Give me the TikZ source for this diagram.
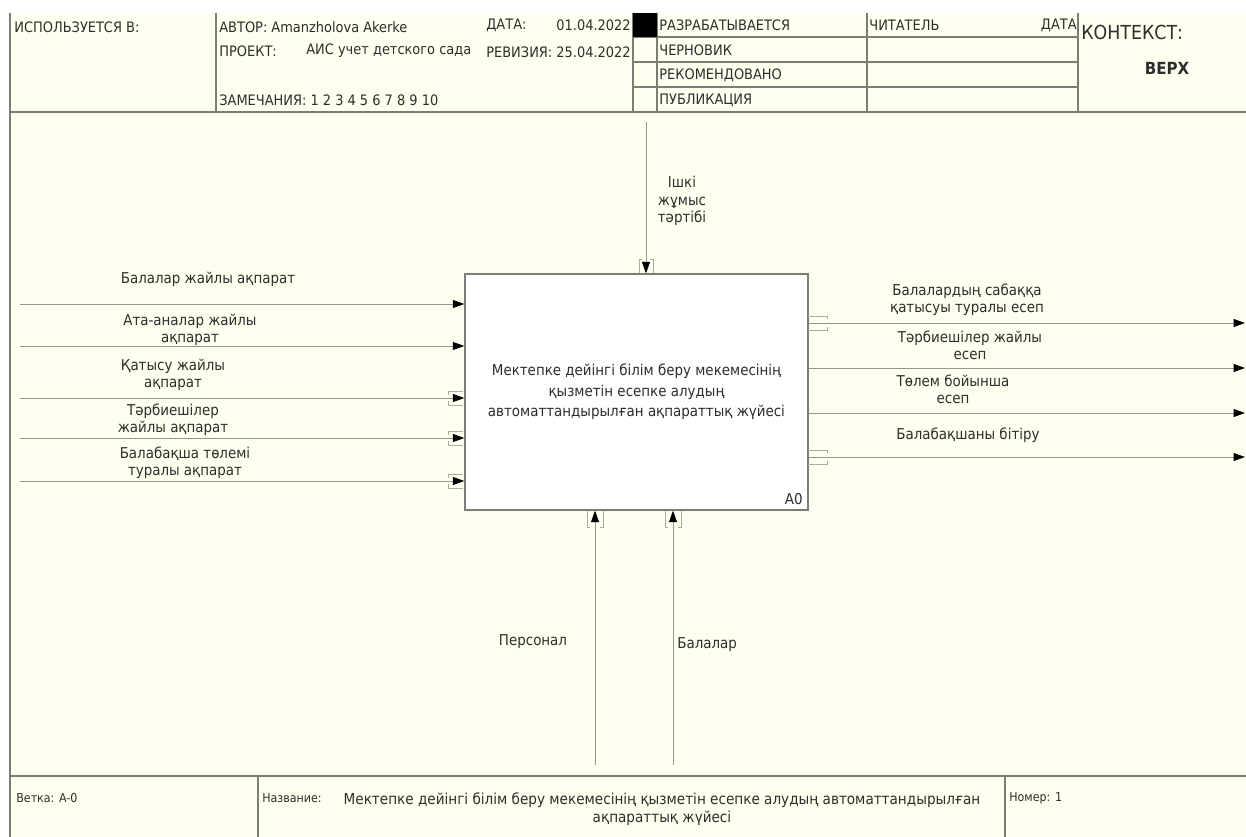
\documentclass[tikz,border=0pt]{standalone}
\usepackage{fontspec}
\setmainfont{DejaVu Sans Condensed}
\usetikzlibrary{arrows.meta}

\definecolor{paper}{RGB}{255,255,240}
\definecolor{rule}{RGB}{125,125,118}
\definecolor{wire}{RGB}{150,150,142}
\definecolor{ink}{RGB}{45,45,45}

\tikzset{
  lbl/.style={font=\fontsize{8.5}{9.8}\selectfont,text=ink,align=center,inner sep=0pt},
  hdr/.style={font=\fontsize{8.2}{9}\selectfont,text=ink,anchor=west,inner sep=0pt},
  ftr/.style={hdr,font=\fontsize{7}{8}\selectfont},
  flow/.style={draw=wire,line width=0.5pt,-{Triangle[length=6.5pt,width=4.5pt,color=black]}},
  tunnel/.style={draw=wire!80,line width=0.4pt},
  frame/.style={draw=rule,line width=1pt}
}

\begin{document}
\begin{tikzpicture}[x=0.02cm,y=-0.02cm]
\useasboundingbox (0,0) rectangle (1246,837);
\fill[white] (0,0) rectangle (1246,837);
\fill[paper] (10,13) rectangle (1246,837);

% header
\begin{scope}
\draw[frame] (10,13) -- (10,837);
\draw[frame] (10,112) -- (1246,112);
\foreach \x in {216,633,657,867,1078}
  \draw[frame,line width=0.6pt] (\x,13) -- (\x,112);
\foreach \y in {37,62,87}
  \draw[frame,line width=0.8pt] (633,\y) -- (1078,\y);
\fill[black] (633,13) rectangle (657,37);

\node[hdr] (usedin) at (14,27) {ИСПОЛЬЗУЕТСЯ В:};
\node[hdr] (author) at (219,27) {АВТОР: Amanzholova Akerke};
\node[hdr] (project) at (219,51) {ПРОЕКТ:};
\node[hdr] (projname) at (306,51) {АИС учет детского сада};
\node[hdr] (notes) at (219,100) {ЗАМЕЧАНИЯ: 1 2 3 4 5 6 7 8 9 10};
\node[hdr] (datekey) at (486,25) {ДАТА:};
\node[hdr,anchor=east] (date) at (631,25) {01.04.2022};
\node[hdr] (revkey) at (486,52) {РЕВИЗИЯ:};
\node[hdr,anchor=east] (rev) at (631,52) {25.04.2022};
\node[hdr] (st1) at (659,25) {РАЗРАБАТЫВАЕТСЯ};
\node[hdr] (st2) at (659,50) {ЧЕРНОВИК};
\node[hdr] (st3) at (659,75) {РЕКОМЕНДОВАНО};
\node[hdr] (st4) at (659,100) {ПУБЛИКАЦИЯ};
\node[hdr] (reader) at (869,25) {ЧИТАТЕЛЬ};
\node[hdr,anchor=east] (readdate) at (1077,25) {ДАТА};
\node[hdr,font=\fontsize{11}{13}\selectfont] (context) at (1081,32) {КОНТЕКСТ:};
\node[hdr,anchor=center,font=\fontsize{9.5}{11}\selectfont\bfseries] (top) at (1167,68) {ВЕРХ};
\end{scope}

% function block
\node[draw=rule,fill=white,line width=0.8pt,minimum width=6.86cm,minimum height=4.72cm,
      inner sep=0pt,font=\fontsize{8.5}{11.7}\selectfont,text=ink,align=center] (func) at (636.5,392)
  {Мектепке дейінгі білім беру мекемесінің\\қызметін есепке алудың\\автоматтандырылған ақпараттық жүйесі};
\node[lbl,anchor=south east] (num) at (803,505) {A0};

% inputs
\foreach \y [count=\i] in {304,346,398,438,481} {
  \coordinate (in\i) at (20,\y);
  \draw[flow] (in\i) -- (in\i -| func.west);
}
\foreach \y in {398,438,481} {
  \draw[tunnel] (448,\y-3) |- (463,\y-7);
  \draw[tunnel] (448,\y+3) |- (463,\y+7);
}
\node[lbl] (inl1) at (208,279) {Балалар жайлы ақпарат};
\node[lbl] (inl2) at (190,330) {Ата-аналар жайлы\\ақпарат};
\node[lbl] (inl3) at (173,375) {Қатысу жайлы\\ақпарат};
\node[lbl] (inl4) at (173,420) {Тәрбиешілер\\жайлы ақпарат};
\node[lbl] (inl5) at (185,463) {Балабақша төлемі\\туралы ақпарат};

% outputs
\foreach \y [count=\i] in {323,368,413,457} {
  \coordinate (out\i) at (1245,\y);
  \draw[flow] (out\i -| func.east) -- (out\i);
}
\foreach \y in {323,457} {
  \draw[tunnel] (808,\y-7) -| (827,\y-4);
  \draw[tunnel] (808,\y+7) -| (827,\y+4);
}
\node[lbl] (outl1) at (967,300) {Балалардың сабаққа\\қатысуы туралы есеп};
\node[lbl] (outl2) at (970,345) {Тәрбиешілер жайлы\\есеп};
\node[lbl] (outl3) at (953,389) {Төлем бойынша\\есеп};
\node[lbl] (outl4) at (968,435) {Балабақшаны бітіру};

% control
\coordinate (ctl) at (646,122);
\draw[flow] (ctl) -- (ctl |- func.north);
\draw[tunnel] (639,273) |- (642,259);
\draw[tunnel] (653,273) |- (650,259);
\node[lbl] (ctll) at (682,201) {Ішкі\\жұмыс\\тәртібі};

% mechanisms
\coordinate (mech1) at (595,765);
\coordinate (mech2) at (673,765);
\draw[flow] (mech1) -- (mech1 |- func.south);
\draw[flow] (mech2) -- (mech2 |- func.south);
\foreach \x in {595,673} {
  \draw[tunnel] (\x-8,511) |- (\x-5,527);
  \draw[tunnel] (\x+8,511) |- (\x+5,527);
}
\node[lbl] (mechl1) at (533,642) {Персонал};
\node[lbl,anchor=west] (mechl2) at (677,645) {Балалар};

% footer
\begin{scope}
\draw[frame] (10,776) -- (1246,776);
\draw[frame,line width=0.6pt] (258,776) -- (258,837);
\draw[frame,line width=0.6pt] (1005,776) -- (1005,837);
\node[ftr] (branch) at (16,798) {Ветка: A-0};
\node[ftr] (namekey) at (262,798) {Название:};
\node[lbl,font=\fontsize{8.6}{10.3}\selectfont] (title) at (662,809)
  {Мектепке дейінгі білім беру мекемесінің қызметін есепке алудың автоматтандырылған\\ақпараттық жүйесі};
\node[ftr] (number) at (1009,798) {Номер: 1};
\end{scope}

\end{tikzpicture}
\end{document}
